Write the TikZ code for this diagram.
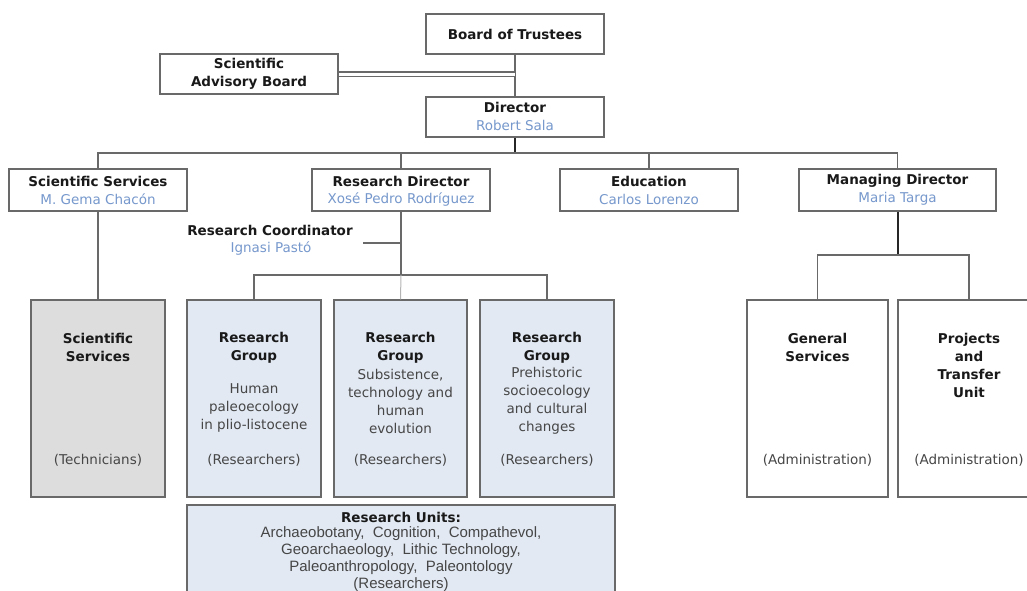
\documentclass[tikz,border=0pt]{standalone}
\usepackage{fontspec}
\setmainfont{DejaVu Sans}
\newfontfamily\unitfont{Liberation Sans}
\usetikzlibrary{calc}
\definecolor{lineC}{RGB}{105,105,105}
\definecolor{ssfill}{RGB}{221,221,221}
\definecolor{rgfill}{RGB}{226,233,243}
\definecolor{nameblue}{RGB}{118,152,204}
\definecolor{darktext}{RGB}{25,25,25}
\definecolor{bodytext}{RGB}{70,70,70}
\tikzset{
  box/.style={draw=lineC, line width=1.5pt, fill=white, inner sep=0pt},
  ttl/.style={font=\fontsize{13.5}{18}\selectfont\bfseries, text=darktext, align=center, inner sep=0pt},
  nm/.style={font=\fontsize{13.5}{18}\selectfont, text=nameblue, align=center, inner sep=0pt},
  body/.style={font=\fontsize{13.5}{18}\selectfont, text=bodytext, align=center, inner sep=0pt},
  conn/.style={draw=lineC, line width=1.5pt},
  strong/.style={draw=black!85, line width=2pt},
}
\newcommand{\boxat}[6]{% name, x1, y1, x2, y2, style
  \node[box,#6, minimum width={(#4-#2)*1pt}, minimum height={(#5-#3)*1pt}] (#1) at ({(#2+#4)/2},{(#3+#5)/2}) {};}
\begin{document}
\begin{tikzpicture}[x=1pt,y=-1pt]
\useasboundingbox (0,0) rectangle (1027,590);
% level 0/1
\boxat{bot}{426}{14}{604}{54}{}
\boxat{sab}{160}{54}{338}{94}{}
\boxat{dir}{426}{97}{604}{137}{}
\node[ttl] (tbot) at (515,34) {Board of Trustees};
\node[ttl] (tsab) at (249,74) {Scientific\\Advisory Board};
\node[ttl] (tdir) at (515,107) {Director};
\node[nm] (ndir) at (515,125) {Robert Sala};
% level 2
\boxat{ss}{9}{169}{187}{211}{}
\boxat{rd}{312}{169}{490}{211}{}
\boxat{ed}{560}{169}{738}{211}{}
\boxat{md}{799}{169}{996}{211}{}
\node[ttl] (tss) at (98,181) {Scientific Services};
\node[nm] (nss) at (98,199) {M. Gema Chacón};
\node[ttl] (trd) at (401,181) {Research Director};
\node[nm] (nrd) at (401,199) {Xosé Pedro Rodríguez};
\node[ttl] (ted) at (649,181) {Education};
\node[nm] (ned) at (649,199) {Carlos Lorenzo};
\node[ttl] (tmd) at (897.5,181) {Managing Director};
\node[nm] (nmd) at (897.5,199) {Maria Targa};
\node[ttl] (trc) at (270,230) {Research Coordinator};
\node[nm] (nrc) at (271,248) {Ignasi Pastó};
% level 3
\boxat{ssb}{31}{300}{165}{497}{fill=ssfill}
\boxat{rg1}{187}{300}{321}{497}{fill=rgfill}
\boxat{rg2}{334}{300}{467}{497}{fill=rgfill}
\boxat{rg3}{480}{300}{614}{497}{fill=rgfill}
\boxat{ru}{187}{505}{615}{600}{fill=rgfill}
\boxat{gs}{747}{300}{888}{497}{}
\boxat{ptu}{898}{300}{1040}{497}{}
\node[ttl] (tssb) at (98,347.5) {Scientific\\Services};
\node[body] (bssb) at (98,460) {(Technicians)};
\node[ttl] (trg1) at (254,347.5) {Research\\Group};
\node[body] (drg1) at (254,408) {Human\\paleoecology\\in plio-listocene};
\node[body] (brg1) at (254,460) {(Researchers)};
\node[ttl] (trg2) at (400.5,347.5) {Research\\Group};
\node[body] (drg2) at (400.5,401) {Subsistence,\\technology  and\\human\\evolution};
\node[body] (brg2) at (400.5,460) {(Researchers)};
\node[ttl] (trg3) at (547,347.5) {Research\\Group};
\node[body] (drg3) at (547,401) {Prehistoric\\socioecology\\and cultural\\changes};
\node[body] (brg3) at (547,460) {(Researchers)};
\node[ttl] (tgs) at (817.5,347.5) {General\\Services};
\node[body] (bgs) at (817.5,460) {(Administration)};
\node[ttl] (tptu) at (969,365) {Projects\\and\\Transfer\\Unit};
\node[body] (bptu) at (969,460) {(Administration)};
\node[ttl] (tru) at (401,517) {Research Units:};
\node[font=\unitfont\fontsize{15}{17}\selectfont, text=bodytext, align=center, inner sep=0pt, anchor=north] (dru) at (401,526)
  {Archaeobotany,\ \ Cognition,\ \ Compathevol,\\Geoarchaeology,\ \ Lithic Technology,\\Paleoanthropology,\ \ Paleontology\\(Researchers)};
% connectors
\draw[conn] (bot.south) -- (dir.north);
\draw[draw=lineC, line width=1.1pt, double=white, double distance=3pt] (sab.east) -- (sab.east -| bot.south);
\coordinate (busy) at (0,153);
\draw[strong] (dir.south) -- (dir.south |- busy);
\draw[conn] (ss.north) |- (md.north |- busy) -- (md.north);
\draw[conn] (rd.north) -- (rd.north |- busy);
\draw[conn] (ed.north) -- (ed.north |- busy);
\draw[conn] (ss.south) -- (ssb.north);
\coordinate (rdbus) at (0,275);
\draw[conn] (rd.south) -- (rd.south |- rdbus);
\draw[conn] (rg1.north) |- (rg3.north |- rdbus) -- (rg3.north);
\draw[draw=lineC!50, line width=1pt] (rd.south |- rdbus) -- (rg2.north);
\coordinate (rcend) at (363,243);
\draw[conn] (rcend) -- (rcend -| rd.south);
\coordinate (mdbus) at (0,255);
\draw[strong] (md.south) -- (md.south |- mdbus);
\draw[conn] (gs.north) |- (ptu.north |- mdbus) -- (ptu.north);
\end{tikzpicture}
\end{document}
